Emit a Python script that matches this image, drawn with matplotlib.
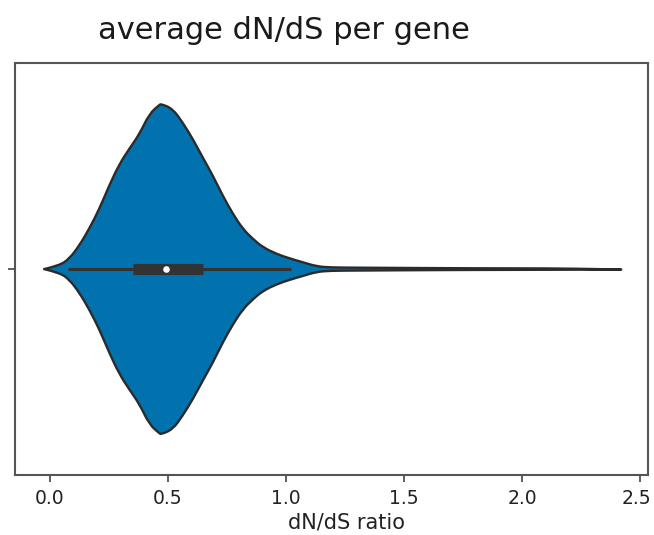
import numpy as np
import matplotlib
matplotlib.use("Agg")
import matplotlib.pyplot as plt
import matplotlib.transforms as mtransforms
from matplotlib.path import Path
from matplotlib.patches import PathPatch

# Violin outline: position on dN/dS axis and half-width (category units)
dnds_grid = [-0.025, 0.039, 0.0815, 0.124, 0.166, 0.209, 0.251, 0.294, 0.336, 0.379,
             0.421, 0.463, 0.471, 0.52, 0.562, 0.605, 0.647, 0.69, 0.732, 0.775,
             0.817, 0.86, 0.902, 0.959, 1.015, 1.072, 1.129, 1.185, 1.3, 1.45,
             1.6, 1.8, 2.0, 2.2, 2.42]
half_width = [0.0, 0.0085, 0.025, 0.057, 0.0976, 0.146, 0.203, 0.255, 0.292, 0.3277,
              0.377, 0.3985, 0.401, 0.389, 0.356, 0.316, 0.271, 0.227, 0.178, 0.134,
              0.0976, 0.073, 0.053, 0.037, 0.026, 0.0165, 0.0068, 0.004, 0.0035, 0.003,
              0.0025, 0.002, 0.0018, 0.0015, 0.001]

# Inner box summary
whisker_low = 0.076
q1 = 0.35
median = 0.49
q3 = 0.647
whisker_high = 1.02

xticks = [0.0, 0.5, 1.0, 1.5, 2.0, 2.5]
xtick_labels = ["0.0", "0.5", "1.0", "1.5", "2.0", "2.5"]


def smooth_path(xs, ys):
    """Quadratic Bezier through midpoints (drawing only, the data points act as controls)."""
    pts = np.column_stack([xs, ys])
    verts = [pts[0]]
    codes = [Path.MOVETO]
    for i in range(1, len(pts) - 1):
        mid = (pts[i] + pts[i + 1]) / 2 if i < len(pts) - 2 else pts[i + 1]
        verts += [pts[i], mid]
        codes += [Path.CURVE3, Path.CURVE3]
    return verts, codes


fig = plt.figure(figsize=(6.54, 5.35), dpi=100)
ax = fig.add_axes([0.023, 0.112, 0.968, 0.770])

x = np.array(dnds_grid)
hw = np.array(half_width)
v_up, c_up = smooth_path(x, hw)
v_lo, c_lo = smooth_path(x[::-1], -hw[::-1])
verts = v_up + v_lo[1:] + [v_up[0]]
codes = c_up + c_lo[1:] + [Path.CLOSEPOLY]
ax.add_patch(PathPatch(Path(verts, codes), facecolor="#0172AD", edgecolor="#2b2b2b",
                       lw=1.7, joinstyle="round", zorder=1))

ax.plot([whisker_low, whisker_high], [0, 0], color="#333333", lw=2.2, solid_capstyle="butt", zorder=3)
ax.plot([q1, q3], [0, 0], color="#333333", lw=8, solid_capstyle="butt", zorder=4)
ax.scatter([median], [0], s=14, color="white", zorder=5)

ax.set_xlim(-0.148, 2.534)
ax.set_ylim(0.5, -0.5)
ax.set_yticks([0])
ax.set_yticklabels([""])
ax.set_xticks(xticks)
ax.set_xticklabels(xtick_labels)
ax.tick_params(axis="x", labelsize=13.5, length=5, width=1.2, pad=5, colors="#444444", labelcolor="#222222")
ax.tick_params(axis="y", length=5, width=1.2, colors="#444444")
for s in ax.spines.values():
    s.set_linewidth(1.5)
    s.set_color("#555555")

# keep the last tick label inside the canvas
last = ax.get_xticklabels()[-1]
last.set_transform(last.get_transform() + mtransforms.ScaledTranslation(-4 / 100, 0, fig.dpi_scale_trans))

ax.set_xlabel("dN/dS ratio", fontsize=15, color="#222222")
ax.xaxis.set_label_coords(0.523, -0.092)

fig.text(0.434, 0.927, "average dN/dS per gene", fontsize=22, ha="center", va="baseline", color="#1a1a1a")

fig.savefig("out.png", dpi=100)
